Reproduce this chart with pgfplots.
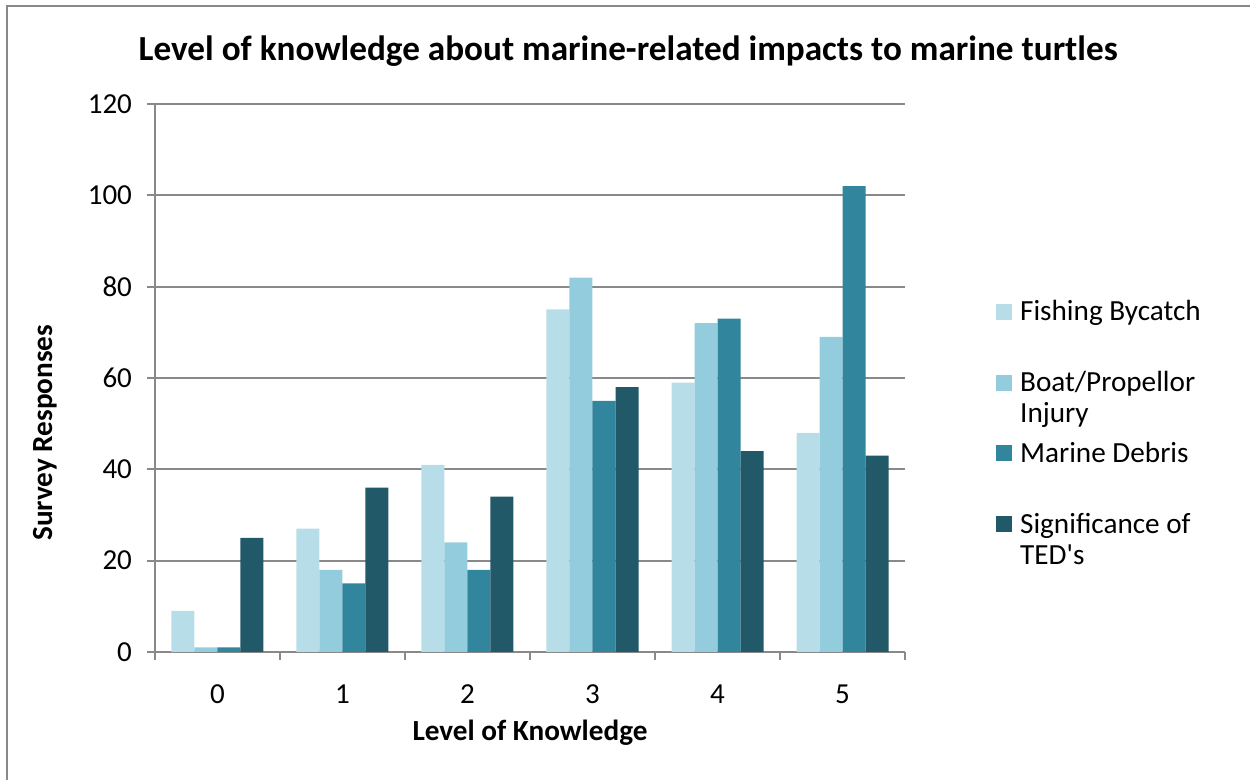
\documentclass[border=0pt]{standalone}
\usepackage{pgfplots}
\pgfplotsset{compat=1.18}
\usepackage{fontspec}
\defaultfontfeatures[\rmfamily]{}
\setmainfont{Carlito}
\definecolor{cA}{HTML}{B7DEE8}
\definecolor{cB}{HTML}{93CDDD}
\definecolor{cC}{HTML}{31859C}
\definecolor{cD}{HTML}{215968}
\definecolor{gridc}{HTML}{898989}
\begin{document}
\begin{tikzpicture}
\useasboundingbox (0,0) rectangle (625pt,390pt);
\draw[gridc, line width=0.9pt] (3.5pt,0) -- (3.5pt,387pt) -- (625pt,387pt);
\begin{axis}[
  at={(77.5pt,64pt)}, anchor=south west,
  scale only axis, width=375pt, height=274pt,
  ybar=0pt, bar width=11.5pt,
  xmin=-0.5, xmax=5.5, ymin=0, ymax=120,
  ytick={0,20,...,120},
  xtick={0,...,5}, xticklabels={0,1,2,3,4,5},
  minor xtick={-0.5,0.5,...,5.5},
  axis x line*=bottom, axis y line*=left,
  axis line style={gridc, line width=0.9pt, -},
  ymajorgrids, major grid style={gridc, line width=0.9pt},
  tick style={gridc, line width=0.9pt},
  tick align=outside,
  major tick length=4pt, minor tick length=4pt,
  major x tick style={draw=none},
  /pgf/number format/assume math mode=true,
  tick label style={font=\fontsize{14.5}{16}\selectfont, text=black},
  yticklabel style={xshift=-4pt},
  xticklabel style={yshift=-9pt},
  every axis title shift/.style={yshift=0pt},
  title={\textbf{Level of knowledge about marine-related impacts to marine turtles}},
  title style={at={(axis description cs:0.631,1.075)}, anchor=center, font=\fontsize{17.6}{20}\selectfont},
  xlabel={\textbf{Level of Knowledge}},
  xlabel style={at={(axis description cs:0.5,-0.148)}, anchor=center, font=\fontsize{14.6}{17}\selectfont},
  ylabel={\textbf{Survey Responses}},
  ylabel style={at={(axis description cs:-0.1467,0.40)}, anchor=center, font=\fontsize{14.6}{17}\selectfont},
  legend style={draw=none, fill=none, at={(axis description cs:1.113,0.6486)}, anchor=north west,
    row sep=0pt, column sep=4pt,
    nodes={text width=110pt, align=flush left, inner sep=0pt, text height=10pt, text depth=25.35pt, anchor=base west, font=\fontsize{14.6}{15.5}\selectfont}},
  legend cell align=left,
  legend image code/.code={\fill[#1,draw=none] (0pt,0.5pt) rectangle (8pt,8.5pt);},
]
\addplot[fill=cA, draw=none] coordinates {(0,9) (1,27) (2,41) (3,75) (4,59) (5,48)};
\addplot[fill=cB, draw=none] coordinates {(0,1) (1,18) (2,24) (3,82) (4,72) (5,69)};
\addplot[fill=cC, draw=none] coordinates {(0,1) (1,15) (2,18) (3,55) (4,73) (5,102)};
\addplot[fill=cD, draw=none] coordinates {(0,25) (1,36) (2,34) (3,58) (4,44) (5,43)};
\addlegendentry{Fishing Bycatch}
\addlegendentry{Boat/Propellor\\Injury}
\addlegendentry{Marine Debris}
\addlegendentry{Significance of\\TED's}
\end{axis}
\end{tikzpicture}
\end{document}
